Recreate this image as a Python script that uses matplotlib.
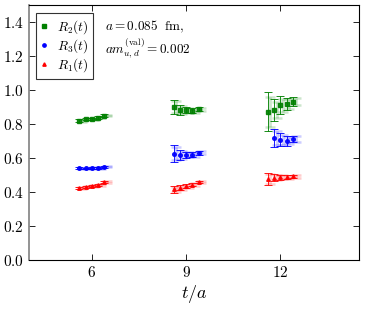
import numpy as np
import matplotlib
matplotlib.use("Agg")
import matplotlib.pyplot as plt
from matplotlib.ticker import FuncFormatter
from matplotlib.lines import Line2D

plt.rcParams['mathtext.fontset'] = 'cm'
plt.rcParams['font.family'] = 'serif'
plt.rcParams['font.serif'] = ['cmr10', 'DejaVu Serif']

# t groups and operator offsets
t_sep = [6, 9, 12]
offsets = [-0.4, -0.2, 0.0, 0.2, 0.4]

# R2(t)
r2_vals = [[0.820, 0.828, 0.830, 0.838, 0.850],
           [0.900, 0.881, 0.882, 0.878, 0.886],
           [0.872, 0.881, 0.910, 0.918, 0.931]]
r2_errs = [[0.008, 0.007, 0.007, 0.007, 0.007],
           [0.044, 0.030, 0.020, 0.015, 0.012],
           [0.116, 0.064, 0.052, 0.037, 0.026]]
# R3(t)
r3_vals = [[0.539, 0.539, 0.541, 0.541, 0.549],
           [0.625, 0.616, 0.618, 0.619, 0.631],
           [np.nan, 0.716, 0.708, 0.702, 0.712]]
r3_errs = [[0.006, 0.005, 0.005, 0.005, 0.006],
           [0.050, 0.030, 0.020, 0.015, 0.012],
           [np.nan, 0.054, 0.040, 0.030, 0.020]]
# R1(t)
r1_vals = [[0.424, 0.431, 0.434, 0.441, 0.457],
           [0.416, 0.425, 0.434, 0.443, 0.459],
           [0.476, 0.484, 0.486, 0.488, 0.492]]
r1_errs = [[0.007, 0.006, 0.006, 0.006, 0.007],
           [0.020, 0.015, 0.012, 0.010, 0.008],
           [0.036, 0.020, 0.015, 0.012, 0.010]]

series = [
    (r'$R_2(t)$', r2_vals, r2_errs, 'green', 's'),
    (r'$R_3(t)$', r3_vals, r3_errs, 'blue', 'o'),
    (r'$R_1(t)$', r1_vals, r1_errs, 'red', '^'),
]

fig = plt.figure(figsize=(3.65, 3.09), dpi=100)
ax = fig.add_axes([0.0795, 0.1586, 0.9041, 0.8252])

handles = []
for label, vals, errs, col, mk in series:
    for k, t in enumerate(t_sep):
        x = np.array([t + o for o in offsets])
        y = np.array(vals[k])
        e = np.array(errs[k])
        # light band
        ax.errorbar(x + 0.08, y, yerr=e * 0.75, fmt='none', ecolor=col, alpha=0.2,
                    elinewidth=2.0, capsize=3.5, capthick=1.8)
        ax.errorbar(x, y, yerr=e, fmt=mk, color=col, ms=2.6, ecolor=col,
                    elinewidth=0.7, capsize=3, capthick=0.7, alpha=0.9)
    handles.append(Line2D([], [], ls='none', marker=mk, color=col, ms=2.4, label=label))

ax.set_xlim(4, 14.5)
ax.set_ylim(0, 1.5)
ax.set_xticks([6, 9, 12])
ax.set_yticks([0.0, 0.2, 0.4, 0.6, 0.8, 1.0, 1.2, 1.4])
ax.xaxis.set_major_formatter(FuncFormatter(lambda v, p: r'$%d$' % v))
ax.yaxis.set_major_formatter(FuncFormatter(lambda v, p: r'$%.1f$' % v))
ax.tick_params(direction='in', top=True, right=True, labelsize=11, length=4, width=0.6)
ax.set_xlabel(r'$t/a$', fontsize=13, labelpad=2)
for s in ax.spines.values():
    s.set_linewidth(0.8)
ax.spines['left'].set_color('0.5')
ax.spines['left'].set_linewidth(1.2)

leg = ax.legend(handles=handles, loc='upper left', fontsize=9.5, frameon=True,
                fancybox=False, edgecolor='black', handlelength=0.5,
                handletextpad=0.7, borderpad=0.35, labelspacing=0.12,
                borderaxespad=0.0, bbox_to_anchor=(0.022, 0.968))
leg.get_frame().set_linewidth(0.8)

ax.text(0.23, 0.915, r'$a = 0.085\ \ \mathrm{fm},$', transform=ax.transAxes,
        fontsize=9.5, va='center')
ax.text(0.23, 0.83, r'$am_{u,d}^{(\mathrm{val})} = 0.002$', transform=ax.transAxes,
        fontsize=9.5, va='center')

fig.savefig('out.png', dpi=100)
